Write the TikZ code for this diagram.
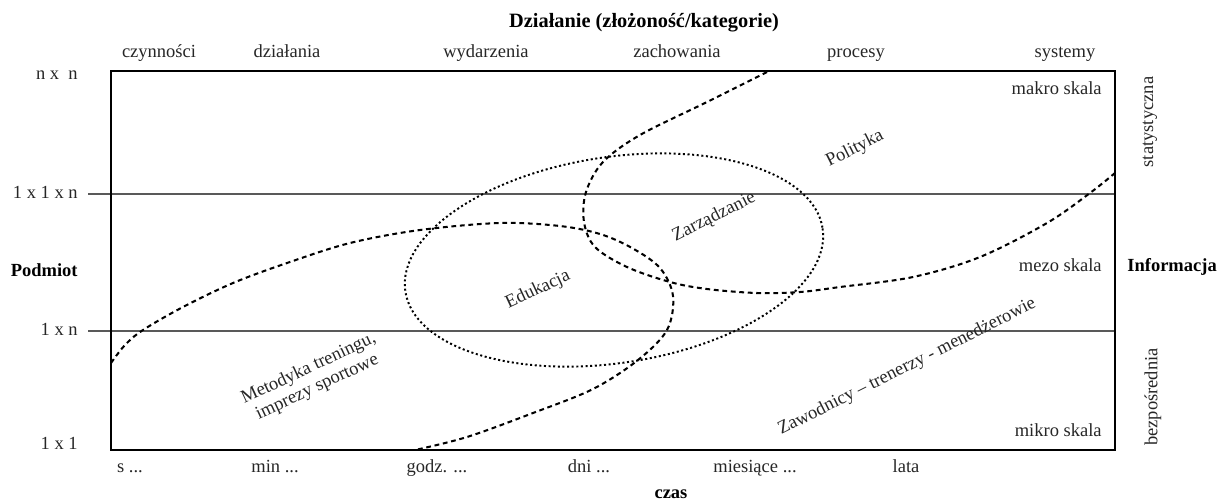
\documentclass[tikz,border=0pt]{standalone}
\usepackage{fontspec}
\setmainfont{Liberation Serif}
\begin{document}
\begin{tikzpicture}[x=0.5405pt,y=-0.5405pt,
  font=\fontsize{10}{11}\selectfont,
  frameline/.style={line width=1.3pt},
  gridline/.style={black!65,line width=0.6pt},
  curve/.style={line width=1.1pt,dash pattern=on 2.6pt off 2pt},
  ellcurve/.style={line width=1.05pt,dash pattern=on 1.1pt off 1.4pt},
  lbl/.style={inner sep=0pt,text=black!85},
  bl/.style={inner sep=0pt,font=\fontsize{10}{11}\selectfont\bfseries},
  rl/.style={inner sep=0pt,rotate=26.6,text=black!85,align=center}]
\useasboundingbox (0,0) rectangle (1217,502);

% grid lines and frame
\coordinate (g1a) at (88,194); \coordinate (g1b) at (1115,194);
\coordinate (g2a) at (88,331); \coordinate (g2b) at (1115,331);
\draw[gridline] (g1a) -- (g1b);
\draw[gridline] (g2a) -- (g2b);
\draw[frameline] (111,71) rectangle (1115,450);

% curves
\draw[curve] plot[smooth,tension=0.55] coordinates {(111,363) (125,345) (143,330) (183,307) (233,283) (287,263) (350,243) (420,230) (500,223) (560,226) (600,234) (632,248) (660,268) (673,296) (667,330) (638,360) (593,389) (533,413) (467,437) (415,450)};
\draw[curve] plot[smooth,tension=0.55] coordinates {(767,72) (707,102) (640,135) (603,162) (586,192) (584,222) (595,247) (627,267) (670,282) (707,289) (757,293) (800,292) (840,287) (913,277) (980,257) (1047,223) (1090,193) (1115,173)};
\draw[ellcurve,rotate around={8.6:(614,260)}] (614,260) ellipse [x radius=211,y radius=103];

% title and axes labels
\node[bl,font=\fontsize{11}{12}\selectfont\bfseries,anchor=mid] (title) at (644,23) {Działanie (złożoność/kategorie)};
\node[lbl,anchor=mid] (t1) at (159,53) {czynności};
\node[lbl,anchor=mid] (t2) at (287,53) {działania};
\node[lbl,anchor=mid] (t3) at (486,53) {wydarzenia};
\node[lbl,anchor=mid] (t4) at (677,53) {zachowania};
\node[lbl,anchor=mid] (t5) at (856,53) {procesy};
\node[lbl,anchor=mid] (t6) at (1065,53) {systemy};

\node[lbl,anchor=mid east] (l1) at (78,75) {n x\ \ n};
\node[lbl,anchor=mid east] (l2) at (78,194) {1 x 1 x n};
\node[bl,anchor=mid east] (l3) at (78,272) {Podmiot};
\node[lbl,anchor=mid east] (l4) at (78,331) {1 x n};
\node[lbl,anchor=mid east] (l5) at (78,445) {1 x 1};

\node[lbl,anchor=mid east] (r1) at (1102,90) {makro skala};
\node[lbl,anchor=mid east] (r2) at (1102,267) {mezo skala};
\node[lbl,anchor=mid east] (r3) at (1102,432) {mikro skala};
\node[bl,anchor=mid west] (r4) at (1127,267) {Informacja};
\node[lbl,rotate=90] (r5) at (1150,122) {statystyczna};
\node[lbl,rotate=90] (r6) at (1153,397) {bezpośrednia};

\node[lbl,anchor=mid] (b1) at (130,468) {s ...};
\node[lbl,anchor=mid] (b2) at (275,468) {min ...};
\node[lbl,anchor=mid] (b3) at (437,468) {godz. ...};
\node[lbl,anchor=mid] (b4) at (589,468) {dni ...};
\node[lbl,anchor=mid] (b5) at (755,468) {miesiące ...};
\node[lbl,anchor=mid] (b6) at (906,468) {lata};
\node[bl,anchor=mid] (b7) at (671,494) {czas};

% region labels
\node[rl,rotate=-1.6] (m) at (313,378) {Metodyka treningu,\\imprezy sportowe};
\node[rl,rotate=-1.6] (e) at (538,290) {Edukacja};
\node[rl] (z) at (714,217) {Zarządzanie};
\node[rl] (p) at (855,149) {Polityka};
\node[rl] (w) at (907,367) {Zawodnicy -- trenerzy - menedżerowie};
\end{tikzpicture}
\end{document}
